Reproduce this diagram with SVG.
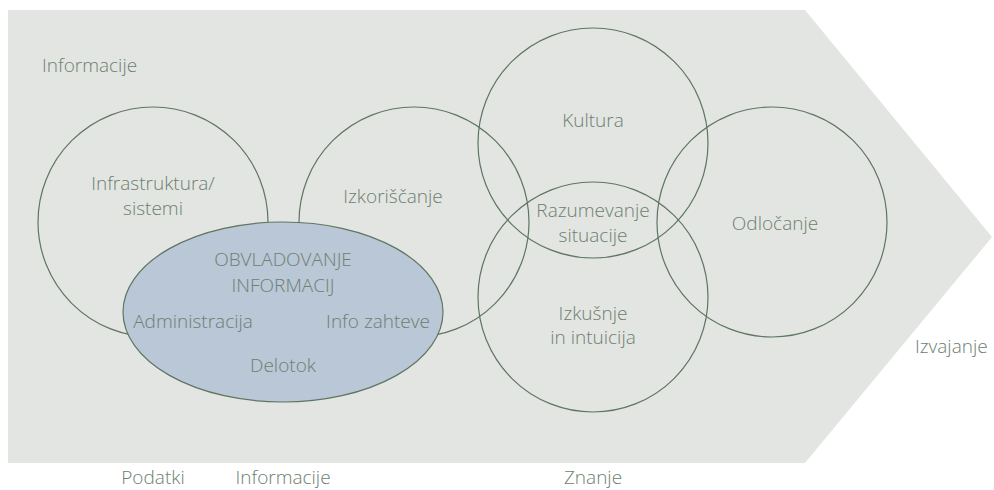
<svg xmlns="http://www.w3.org/2000/svg" width="994" height="490" viewBox="0 0 994 490">
<style>
.bg{fill:#e3e5e2}
.c{fill:none;stroke:#5f7561;stroke-width:1.2}
.e{fill:#b9c7d7;stroke:#5f7561;stroke-width:1.2}
text{font-family:"Open Sans","Liberation Sans",sans-serif;font-size:19px;font-weight:300;fill:#6d806f}
.m{text-anchor:middle}
</style>
<g id="chevron"><polygon class="bg" points="8,10 805,10 992,237 805,463 8,463"/></g>
<g id="infrastruktura"><circle class="c" cx="153" cy="222" r="115"/><text class="m" x="153" y="190">Infrastruktura/</text><text class="m" x="153" y="215">sistemi</text></g>
<g id="izkoriscanje"><circle class="c" cx="414" cy="222" r="115"/><text class="m" x="393" y="203">Izkoriščanje</text></g>
<g id="kultura"><circle class="c" cx="593" cy="143" r="115"/><text class="m" x="593" y="127">Kultura</text></g>
<g id="izkusnje"><circle class="c" cx="593" cy="297" r="115"/><text class="m" x="593" y="320">Izkušnje</text><text class="m" x="593" y="344">in intuicija</text></g>
<g id="razumevanje"><text class="m" x="593" y="217">Razumevanje</text><text class="m" x="593" y="242">situacije</text></g>
<g id="odlocanje"><circle class="c" cx="772" cy="222" r="115"/><text class="m" x="775" y="230">Odločanje</text></g>
<g id="obvladovanje"><ellipse class="e" cx="283" cy="312" rx="160" ry="90"/>
<text class="m" x="283" y="266">OBVLADOVANJE</text><text class="m" x="283" y="292">INFORMACIJ</text>
<text class="m" x="193" y="328">Administracija</text><text class="m" x="378" y="328">Info zahteve</text><text class="m" x="283" y="372">Delotok</text></g>
<g id="labels">
<text x="42" y="72">Informacije</text>
<text x="915" y="353">Izvajanje</text>
<text class="m" x="153" y="484">Podatki</text>
<text class="m" x="283" y="484">Informacije</text>
<text class="m" x="593" y="484">Znanje</text>
</g>
<g id="connectors"></g>
</svg>
